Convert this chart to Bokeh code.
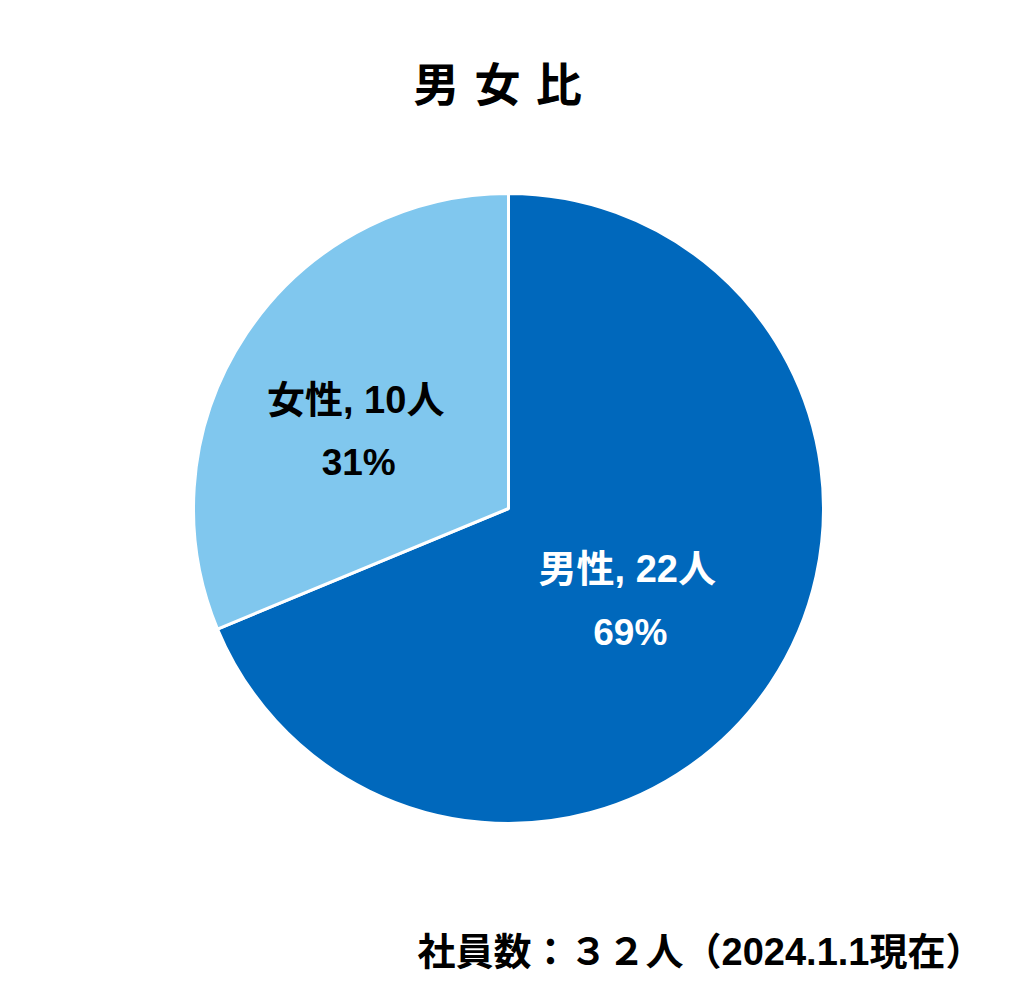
import math
from bokeh.plotting import figure
from bokeh.models import ColumnDataSource, Range1d
from bokeh.core.properties import value
from bokeh.embed import file_html
from bokeh.resources import INLINE

# ---- data ----
categories = ["男性", "女性"]
counts = [22, 10]
colors = ["#0068BC", "#80C7EE"]
label_colors = ["white", "black"]
title_text = "男 女 比"
note_text = "社員数：３２人（2024.1.1現在）"

W, H = 1008, 978
p = figure(width=W, height=H, x_range=Range1d(0, W), y_range=Range1d(0, H),
           output_backend="svg", toolbar_location=None, min_border=0)
p.axis.visible = False
p.grid.visible = False
p.outline_line_color = None
p.background_fill_color = "white"
p.border_fill_color = "white"

# layout (page px -> data)
def X(px):
    return px
def Y(py):
    return H - py

cx, cy, R = X(508), Y(508), 315

total = sum(counts)
starts, ends, mids = [], [], []
a = math.pi / 2
for c in counts:
    sweep = 2 * math.pi * c / total
    starts.append(a)
    ends.append(a - sweep)
    mids.append(a - sweep / 2)
    a -= sweep

src = ColumnDataSource(dict(start=starts, end=ends, color=colors))
p.wedge(x=cx, y=cy, radius=R, start_angle="start", end_angle="end",
        direction="clock", fill_color="color", line_color="white",
        line_width=3, source=src)

FONT = value("Liberation Sans, Noto Sans CJK JP")
nudges = [(-20, 0), (-14, -16)]  # label placement tweaks (px)
lx1, ly1, lx2, ly2, t1, t2 = [], [], [], [], [], []
LR = 0.53 * R
for cat, c, m, (nx, ny) in zip(categories, counts, mids, nudges):
    bx = cx + LR * math.cos(m) + nx
    by = cy + LR * math.sin(m) + ny
    lx1.append(bx); ly1.append(by + 32)
    lx2.append(bx + 3); ly2.append(by - 31)
    t1.append(f"{cat}, {c}人")
    t2.append(f"{round(100 * c / total)}%")

lsrc = ColumnDataSource(dict(x1=lx1, y1=ly1, x2=lx2, y2=ly2, t1=t1, t2=t2,
                             col=label_colors))
p.text(x="x1", y="y1", text="t1", source=lsrc, text_color="col",
       text_font=FONT, text_font_style="bold", text_font_size="38px",
       text_align="center", text_baseline="middle")
p.text(x="x2", y="y2", text="t2", source=lsrc, text_color="col",
       text_font=FONT, text_font_style="bold", text_font_size="37px",
       text_align="center", text_baseline="middle")

p.text(x=[X(497)], y=[Y(80)], text=[title_text.replace(" ", "\u2004")],
       text_color="black",
       text_font=value("Noto Sans CJK JP"), text_font_style="bold",
       text_font_size="46px", text_align="center", text_baseline="middle")

p.text(x=[X(983)], y=[Y(951)], text=[note_text], text_color="black",
       text_font=FONT, text_font_style="bold", text_font_size="38px",
       text_align="right", text_baseline="middle")

open("out.html", "w").write(file_html(p, INLINE))
